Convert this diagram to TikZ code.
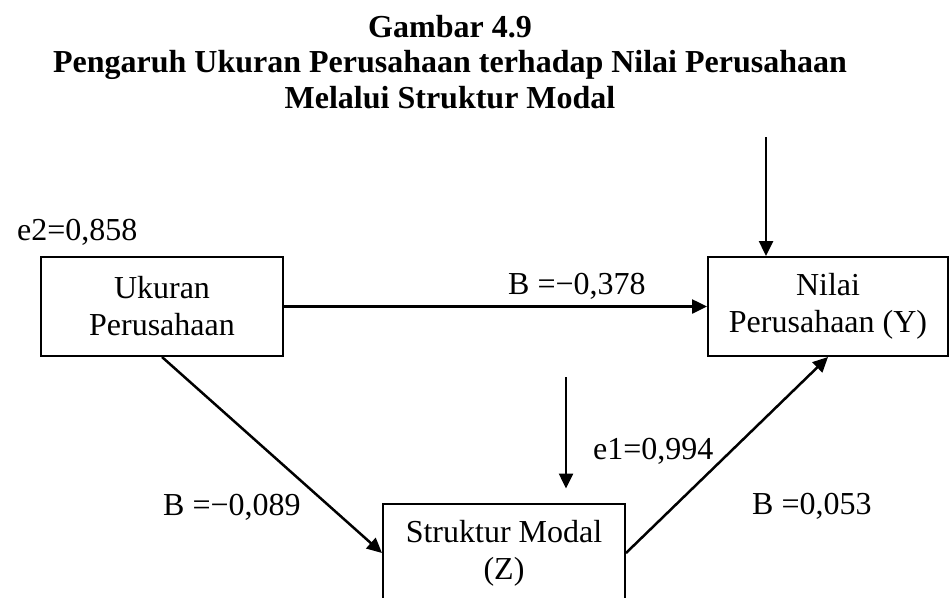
\documentclass[tikz,border=0pt]{standalone}
\usepackage{fontspec}
\setmainfont{Liberation Serif}
\usetikzlibrary{arrows.meta}
\begin{document}
\begin{tikzpicture}[x=1pt,y=-1pt,
  box/.style={draw, line width=2pt, minimum width=242pt, minimum height=99pt, align=center, inner sep=0pt, font=\fontsize{32}{37}\selectfont},
  lbl/.style={anchor=base west, inner sep=0pt, font=\fontsize{32}{37}\selectfont},
  arr/.style={line width=2.5pt, -{Triangle[length=15pt,width=14pt]}},
  ttl/.style={anchor=base, inner sep=0pt, font=\bfseries\fontsize{32}{37}\selectfont}]
\clip (0,0) rectangle (949,597);
\useasboundingbox (0,0) rectangle (949,597);
% title
\node[ttl] (t1) at (450,37) {Gambar 4.9};
\node[ttl] (t2) at (450,72) {Pengaruh Ukuran Perusahaan terhadap Nilai Perusahaan};
\node[ttl] (t3) at (450,108) {Melalui Struktur Modal};
% boxes
\node[box] (uk) at (162,306.5) {Ukuran\\Perusahaan};
\node[box, minimum width=240pt] (nv) at (828,306.5) {Nilai\\Perusahaan (Y)};
\node[box] (sm) at (504,553) {Struktur Modal\\(Z)};
% connectors
\draw[arr] (uk.east) -- (nv.west);
\draw[arr] (uk.south) -- (sm.west);
\draw[arr] (sm.east) -- (nv.south);
\coordinate (ey) at (766,137);
\draw[arr] (ey) -- (ey |- nv.north);
\coordinate (ez) at (566,377);
\draw[arr, shorten >=14pt] (ez) -- (ez |- sm.north);
% labels
\node[lbl] (le2) at (17,240) {e2=0,858};
\node[lbl] (lb1) at (508,294) {B =−0,378};
\node[lbl] (lb2) at (163,515) {B =−0,089};
\node[lbl] (lb3) at (752,514) {B =0,053};
\node[lbl] (le1) at (593,459) {e1=0,994};
\end{tikzpicture}
\end{document}
